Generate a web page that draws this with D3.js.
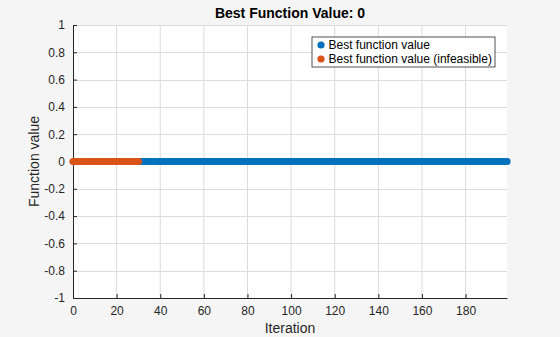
<!DOCTYPE html>
<html>
<head>
<meta charset="utf-8">
<script src="https://cdn.jsdelivr.net/npm/d3@7"></script>
<style>
  body { margin: 0; background: #f5f5f5; }
  svg { display: block; font-family: "Liberation Sans", Arial, sans-serif; }
</style>
</head>
<body>
<div class="chart"></div>
<script>
// iterations and best values
var infeasibleIters = d3.range(0, 31);
var infeasibleVals = infeasibleIters.map(() => 0);
var feasibleIters = d3.range(31, 200);
var feasibleVals = feasibleIters.map(() => 0);
var xTicks = [0, 20, 40, 60, 80, 100, 120, 140, 160, 180];
var yTicks = [-1, -0.8, -0.6, -0.4, -0.2, 0, 0.2, 0.4, 0.6, 0.8, 1];
var legendLabels = ["Best function value", "Best function value (infeasible)"];
var colors = ["#0072BD", "#D95319"];

var width = 560, height = 337;
var margin = {top: 25, right: 53, bottom: 39, left: 73};
var innerW = width - margin.left - margin.right;
var innerH = height - margin.top - margin.bottom;

var svg = d3.select(".chart").append("svg")
    .attr("width", width)
    .attr("height", height);

svg.append("rect").attr("width", width).attr("height", height).attr("fill", "#f5f5f5");

var g = svg.append("g").attr("transform", `translate(${margin.left},${margin.top})`);

var x = d3.scaleLinear().domain([0, 199]).range([0, innerW]);
var y = d3.scaleLinear().domain([-1, 1]).range([innerH, 0]);

//Plot area
g.append("rect").attr("width", innerW).attr("height", innerH).attr("fill", "#ffffff");

//Grid
g.selectAll(".gx").data(xTicks.filter(d => d > 0)).enter().append("line")
    .attr("x1", d => x(d)).attr("x2", d => x(d))
    .attr("y1", 0).attr("y2", innerH)
    .attr("stroke", "#dbdbdb").attr("stroke-width", 1);
g.selectAll(".gy").data(yTicks.filter(d => d > -1)).enter().append("line")
    .attr("y1", d => Math.round(y(d)) + 0.5).attr("y2", d => Math.round(y(d)) + 0.5)
    .attr("x1", 0).attr("x2", innerW)
    .attr("stroke", "#dbdbdb").attr("stroke-width", 1);

//Axes
var xAxis = d3.axisBottom(x).tickValues(xTicks).tickSizeInner(-4).tickSizeOuter(0).tickPadding(8);
var yAxis = d3.axisLeft(y).tickValues(yTicks).tickSizeInner(-4).tickSizeOuter(0).tickPadding(8);

var gx = g.append("g").attr("transform", `translate(0,${innerH})`).call(xAxis);
var gy = g.append("g").call(yAxis);
[gx, gy].forEach(a => {
    a.selectAll("path, line").attr("stroke", "#262626");
    a.selectAll("text").attr("fill", "#262626").style("font-size", "12px");
});
gy.selectAll("text").text(d => d === 0 ? "0" : String(+d.toFixed(1)));

//Points
g.selectAll(".pf").data(feasibleIters).enter().append("circle")
    .attr("cx", d => x(d)).attr("cy", (d, i) => y(feasibleVals[i]))
    .attr("r", 3.6).attr("fill", colors[0]);
g.selectAll(".pi").data(infeasibleIters).enter().append("circle")
    .attr("cx", d => x(d)).attr("cy", (d, i) => y(infeasibleVals[i]))
    .attr("r", 3.6).attr("fill", colors[1]);

//Title and labels
svg.append("text").attr("x", margin.left + innerW / 2).attr("y", 18)
    .attr("text-anchor", "middle").style("font-size", "14px").style("font-weight", "bold")
    .attr("fill", "#000").text("Best Function Value: 0");
svg.append("text").attr("x", margin.left + innerW / 2).attr("y", 333)
    .attr("text-anchor", "middle").style("font-size", "14px").attr("fill", "#262626")
    .text("Iteration");
svg.append("text").attr("transform", `translate(39,${margin.top + innerH / 2}) rotate(-90)`)
    .attr("text-anchor", "middle").style("font-size", "14px").attr("fill", "#262626")
    .text("Function value");

//Legend
var lg = svg.append("g").attr("transform", "translate(312,37)");
lg.append("rect").attr("width", 183).attr("height", 30)
    .attr("fill", "#ffffff").attr("stroke", "#262626").attr("stroke-width", 0.8);
legendLabels.forEach((label, i) => {
    lg.append("circle").attr("cx", 9).attr("cy", 8 + i * 14).attr("r", 3.6).attr("fill", colors[i]);
    lg.append("text").attr("x", 16.5).attr("y", 12 + i * 14)
        .style("font-size", "12px").attr("fill", "#000").text(label);
});
</script>
</body>
</html>
